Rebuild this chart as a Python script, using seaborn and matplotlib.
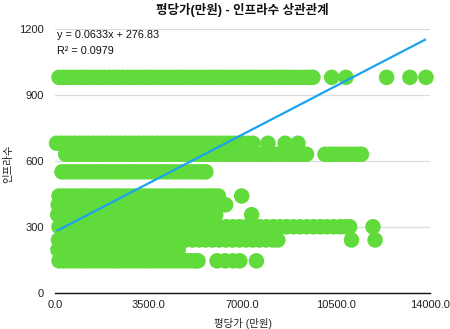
import matplotlib
matplotlib.use("Agg")
import matplotlib.pyplot as plt
import seaborn as sns
import pandas as pd

# ---- data (평당가 in 만원, 인프라수) ----
band_980_x = [150, 320, 490, 660, 830, 1000, 1170, 1340, 1510, 1680, 1850, 2020, 2190,
              2360, 2530, 2700, 2870, 3040, 3210, 3380, 3550, 3720, 3890, 4060, 4230,
              4400, 4570, 4740, 4910, 5080, 5250, 5420, 5590, 5760, 5930, 6100, 6270,
              6440, 6610, 6780, 6950, 7120, 7290, 7460, 7630, 7800, 7970, 8140, 8310,
              8480, 8650, 8820, 8990, 9160, 9330, 9500, 9630, 10330, 10860, 12380,
              13250, 13850]
band_680_x = [60, 230, 400, 570, 740, 910, 1080, 1250, 1420, 1590, 1760, 1930, 2100,
              2270, 2440, 2610, 2780, 2950, 3120, 3290, 3460, 3630, 3800, 3970, 4140,
              4310, 4480, 4650, 4820, 4990, 5160, 5330, 5500, 5670, 5840, 6010, 6180,
              6350, 6520, 6690, 6860, 7030, 7200, 7390, 7950, 8590, 9070]
band_630_x = [400, 570, 740, 910, 1080, 1250, 1420, 1590, 1760, 1930, 2100, 2270, 2440,
              2610, 2780, 2950, 3120, 3290, 3460, 3630, 3800, 3970, 4140, 4310, 4480,
              4650, 4820, 4990, 5160, 5330, 5500, 5670, 5840, 6010, 6180, 6350, 6520,
              6690, 6860, 7030, 7200, 7370, 7540, 7710, 7880, 8050, 8220, 8390, 8560,
              8730, 8900, 9070, 9240, 9390, 10080, 10250, 10420, 10590, 10760, 10930,
              11100, 11270, 11440]
band_550_x = [260, 430, 600, 770, 940, 1110, 1280, 1450, 1620, 1790, 1960, 2130, 2300,
              2470, 2640, 2810, 2980, 3150, 3320, 3490, 3660, 3830, 4000, 4170, 4340,
              4510, 4680, 4850, 5020, 5190, 5360, 5500, 5630]
band_440_x = [150, 320, 490, 660, 830, 1000, 1170, 1340, 1510, 1680, 1850, 2020, 2190,
              2360, 2530, 2700, 2870, 3040, 3210, 3380, 3550, 3720, 3890, 4060, 4230,
              4400, 4570, 4740, 4910, 5080, 5250, 5420, 5590, 5760, 5930, 6100, 6970]
band_400_x = [120, 370, 620, 870, 1120, 1370, 1620, 1870, 2120, 2370, 2620, 2870, 3120,
              3370, 3620, 3870, 4120, 4370, 4620, 4870, 5120, 5370, 5620, 5870, 6120, 6370]
band_355_x = [100, 350, 600, 850, 1100, 1350, 1600, 1850, 2100, 2350, 2600, 2850, 3100,
              3350, 3600, 3850, 4100, 4350, 4600, 4850, 5100, 5350, 5600, 5850, 6000, 7340]
band_300_x = [150, 400, 650, 900, 1150, 1400, 1650, 1900, 2150, 2400, 2650, 2900, 3150,
              3400, 3650, 3900, 4150, 4400, 4650, 4900, 5150, 5400, 5650, 5900, 6150,
              6400, 6650, 6900, 7150, 7400, 7650, 7900, 8150, 8400, 8650, 8900, 9150,
              9400, 9650, 9900, 10150, 10400, 10650, 10850, 11000, 11870]
band_240_x = [130, 380, 630, 880, 1130, 1380, 1630, 1880, 2130, 2380, 2630, 2880, 3130,
              3380, 3630, 3880, 4130, 4380, 4630, 4880, 5130, 5380, 5630, 5880, 6130,
              6380, 6630, 6880, 7130, 7380, 7630, 7880, 8130, 8320, 11070, 11950]
band_195_x = [110, 360, 610, 860, 1110, 1360, 1610, 1860, 2110, 2360, 2610, 2860, 3110,
              3360, 3610, 3860, 4110, 4360, 4600]
band_145_x = [150, 320, 490, 660, 830, 1000, 1170, 1340, 1510, 1680, 1850, 2020, 2190,
              2360, 2530, 2700, 2870, 3040, 3210, 3380, 3550, 3720, 3890, 4060, 4230,
              4400, 4570, 4740, 4910, 5080, 5250, 5340, 6050, 6350, 6650, 6900, 7520]

band_levels = [980, 680, 630, 550, 440, 400, 355, 300, 240, 195, 145]
band_xs = [band_980_x, band_680_x, band_630_x, band_550_x, band_440_x, band_400_x,
           band_355_x, band_300_x, band_240_x, band_195_x, band_145_x]

slope = 0.0633
intercept = 276.83
r_squared = 0.0979

x_ticks = [0, 3500, 7000, 10500, 14000]
x_tick_labels = ["0.0", "3500.0", "7000.0", "10500.0", "14000.0"]
y_ticks = [0, 300, 600, 900, 1200]
y_tick_labels = ["0", "300", "600", "900", "1200"]

title = "평당가(만원) - 인프라수 상관관계"
x_label = "평당가 (만원)"
y_label = "인프라수"

# ---- build table ----
rows = []
for lvl, xs in zip(band_levels, band_xs):
    for xv in xs:
        rows.append({"평당가": xv, "인프라수": lvl})
df = pd.DataFrame(rows)

sns.set_theme(style="white")
plt.rcParams["font.family"] = ["Liberation Sans", "Noto Sans CJK KR", "DejaVu Sans"]
plt.rcParams["axes.unicode_minus"] = False

fig = plt.figure(figsize=(4.5, 3.29), dpi=100)
ax = fig.add_axes([55 / 450, 1 - 292.7 / 329, 375 / 450, (292.7 - 29) / 329])

green = "#61DA3B"
blue = "#1AA3F0"

sns.scatterplot(data=df, x="평당가", y="인프라수", ax=ax, s=125, color=green,
                edgecolor="none", linewidth=0, alpha=1.0, clip_on=False, zorder=3,
                legend=False)

x0, x1 = df["평당가"].min(), df["평당가"].max()
ax.plot([x0, x1], [slope * x0 + intercept, slope * x1 + intercept],
        color=blue, linewidth=1.6, zorder=4, solid_capstyle="butt")

ax.set_xlim(0, 14000)
ax.set_ylim(0, 1200)
ax.set_xticks(x_ticks)
ax.set_xticklabels(x_tick_labels)
ax.set_yticks(y_ticks)
ax.set_yticklabels(y_tick_labels)
ax.tick_params(axis="both", length=0, labelsize=8, colors="#222222")
ax.tick_params(axis="y", pad=8)
ax.tick_params(axis="x", pad=5)

ax.yaxis.grid(True, color="#dcdcdc", linewidth=0.9, zorder=0)
ax.xaxis.grid(False)
ax.set_axisbelow(True)
for side in ["left", "right", "top"]:
    ax.spines[side].set_visible(False)
ax.spines["bottom"].set_color("#111111")
ax.spines["bottom"].set_linewidth(1.0)
ax.spines["bottom"].set_zorder(5)

ax.set_xlabel(x_label, fontsize=7.5, labelpad=6, color="#222222")
ax.set_ylabel(y_label, fontsize=7.5, color="#222222")
ax.yaxis.set_label_coords(-0.112, 0.49)
ax.set_title(title, fontsize=9, fontweight="bold", pad=11, color="#111111")

ax.text(0.005, 0.977, f"y = {slope}x + {intercept}",
        transform=ax.transAxes, fontsize=7.8, va="center", ha="left",
        color="#111111", zorder=6)
ax.text(0.005, 0.915, f"R² = {r_squared}",
        transform=ax.transAxes, fontsize=7.8, va="center", ha="left",
        color="#111111", zorder=6)

fig.savefig("out.png", dpi=100)
